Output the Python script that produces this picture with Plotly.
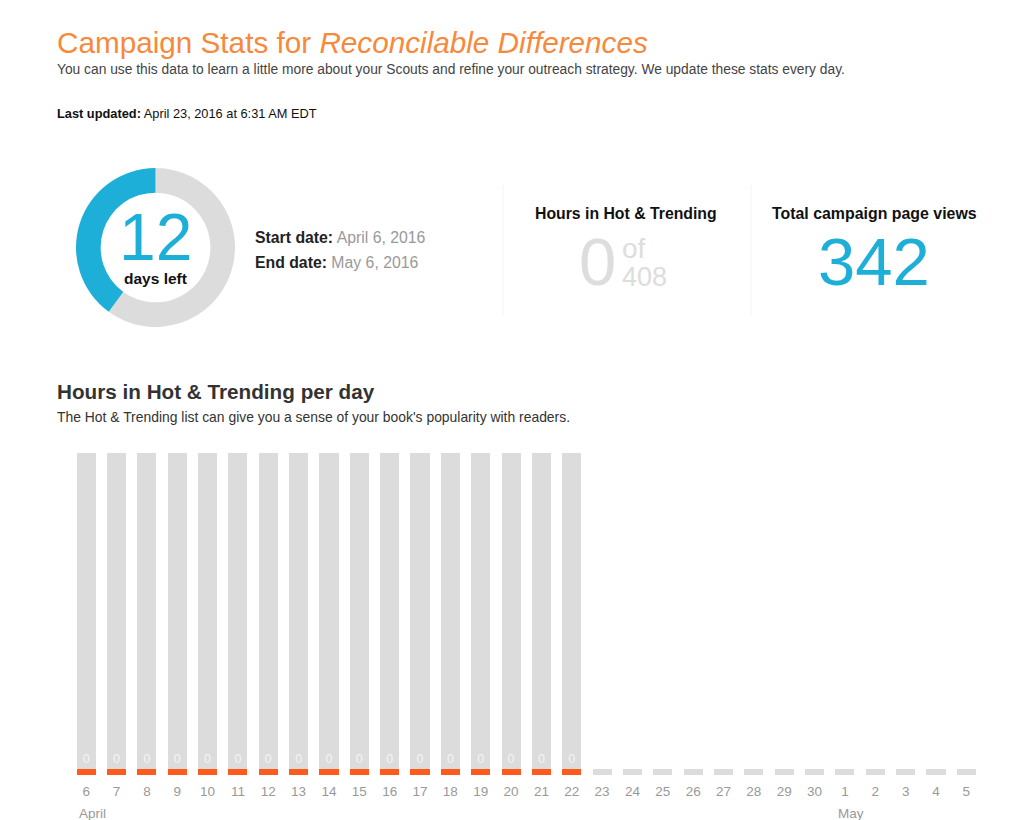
import plotly.graph_objects as go

# campaign figures
days_left = 12
days_elapsed = 18
hours_in_hot = 0
hours_possible = 408
page_views = 342

# per-day chart (April 6 -> May 5)
day_labels = [str(d) for d in range(6, 31)] + [str(d) for d in range(1, 6)]
hours_per_day = [0] * 17 + [None] * 13
month_labels = [("April", "6"), ("May", "1")]
max_hours = 24
stub = 0.45

ORANGE = "#f7893b"
BLUE = "#1eafd8"
BAR_ORANGE = "#fd5a1e"
GREY = "#dcdcdc"
FONT = "Liberation Sans, Arial, sans-serif"

W, H = 1024, 820
OFF = 8  # page body margin around the plot div


def px(x):
    return (x - OFF) / W


def py(y):
    return 1 - (y - OFF) / H


fig = go.Figure()

# day bars: stub at the bottom, grey 24h background on top for days with data
stub_colors = [BAR_ORANGE if h is not None else GREY for h in hours_per_day]
fig.add_trace(go.Bar(
    x=day_labels,
    y=[stub] * len(day_labels),
    marker=dict(color=stub_colors, line_width=0),
    hoverinfo="skip",
    showlegend=False,
))
fig.add_trace(go.Bar(
    x=day_labels,
    y=[max_hours if h is not None else None for h in hours_per_day],
    text=[str(h) if h is not None else "" for h in hours_per_day],
    textposition="inside",
    insidetextanchor="start",
    textangle=0,
    textfont=dict(color="#f4f4f4", size=12.5, family=FONT),
    marker=dict(color=GREY, line_width=0),
    hoverinfo="skip",
    showlegend=False,
))

# days-left donut: elapsed part first (clockwise from 12 o'clock), days left closes the ring
cx, cy, r = 155.5, 247.5, 79.5
fig.add_trace(go.Pie(
    values=[days_elapsed, days_left],
    marker=dict(colors=[GREY, BLUE], line_width=0),
    hole=0.69,
    sort=False,
    direction="clockwise",
    rotation=0,
    textinfo="none",
    hoverinfo="skip",
    showlegend=False,
    domain=dict(x=[px(cx - r), px(cx + r)], y=[py(cy + r), py(cy - r)]),
))

annotations = []


def note(text, x, y, size, color="#222", xanchor="left"):
    annotations.append(dict(
        text=text, x=px(x), y=py(y), xref="paper", yref="paper",
        xanchor=xanchor, yanchor="middle", showarrow=False,
        font=dict(size=size, color=color, family=FONT),
    ))


note("Campaign Stats for <i>Reconcilable Differences</i>", 55, 42, 29.7, ORANGE)
note("You can use this data to learn a little more about your Scouts and refine your "
     "outreach strategy. We update these stats every day.", 55, 70, 13.8, "#444")
note("<b>Last updated:</b> April 23, 2016 at 6:31 AM EDT", 55, 113, 12.8, "#111")

note(str(days_left), cx, 237, 66, BLUE, "center")
note("<b>days left</b>", cx, 278, 15.5, "#111", "center")
note("<b>Start date:</b> <span style='color:#999'>April 6, 2016</span>", 253, 237, 15.8, "#222")
note("<b>End date:</b> <span style='color:#999'>May 6, 2016</span>", 253, 262, 15.8, "#222")

note("<b>Hours in Hot & Trending</b>", 626, 213, 15.8, "#111", "center")
note(str(hours_in_hot), 597, 261, 67, "#dddddd", "center")
note("of", 620, 248, 28, "#dddddd")
note(str(hours_possible), 620, 277, 27, "#dddddd")

note("<b>Total campaign page views</b>", 874, 213, 15.9, "#111", "center")
note(str(page_views), 874, 261, 67, BLUE, "center")

note("<b>Hours in Hot & Trending per day</b>", 55, 391, 20.7, "#333")
note("The Hot & Trending list can give you a sense of your book's popularity with readers.",
     55, 417, 13.9, "#333")

# month labels under the day axis
for label, day in month_labels:
    annotations.append(dict(
        text=label, x=day_labels.index(day), y=py(813), xref="x", yref="paper",
        xanchor="left", yanchor="middle", xshift=-9, showarrow=False,
        font=dict(size=13.5, color="#999", family=FONT),
    ))

shapes = [
    dict(type="line", xref="paper", yref="paper", x0=0, x1=1, y0=py(1), y1=py(1),
         line=dict(color="#cccccc", width=2)),
    dict(type="line", xref="paper", yref="paper", x0=px(503), x1=px(503), y0=py(185), y1=py(315),
         line=dict(color="#f4f4f4", width=1)),
    dict(type="line", xref="paper", yref="paper", x0=px(751), x1=px(751), y0=py(185), y1=py(315),
         line=dict(color="#f4f4f4", width=1)),
]

fig.update_layout(
    width=W,
    height=H,
    margin=dict(l=0, r=0, t=0, b=0),
    paper_bgcolor="white",
    plot_bgcolor="white",
    barmode="stack",
    bargap=0.37,
    font=dict(family=FONT),
    annotations=annotations,
    shapes=shapes,
    xaxis=dict(
        type="category",
        domain=[px(71), px(981.5)],
        showgrid=False, zeroline=False, showline=False, ticks="",
        ticklabelstandoff=6,
        tickfont=dict(size=13.5, color="#999"),
        fixedrange=True,
    ),
    yaxis=dict(
        domain=[py(775), py(453)],
        range=[0, max_hours + stub],
        visible=False,
        fixedrange=True,
    ),
)

fig.write_html("out.html", config={"displayModeBar": False})
